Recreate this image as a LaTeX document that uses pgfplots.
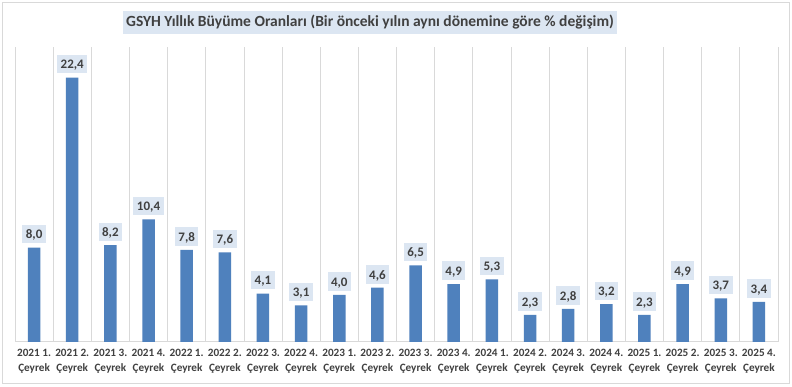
\documentclass[border=0pt]{standalone}
\usepackage{pgfplots}
\pgfplotsset{compat=1.18}
\usepackage{fontspec}
\setmainfont{Carlito}
\definecolor{barblue}{HTML}{4F81BD}
\definecolor{lblfill}{HTML}{DCE6F2}
\definecolor{txt}{HTML}{404040}
\definecolor{gridc}{HTML}{D9D9D9}
\begin{document}
\begin{tikzpicture}
\useasboundingbox (0,0) rectangle (792pt,387pt);
\fill[white] (0,0) rectangle (792pt,387pt);
\draw[gridc, line width=1pt] (2.5pt,3.5pt) rectangle (789.5pt,384.5pt);
\node[fill=lblfill, text=txt, font=\fontsize{15.5}{18}\selectfont\bfseries, minimum height=23pt, inner xsep=3pt] at (370pt,364.5pt) {GSYH Yıllık Büyüme Oranları (Bir önceki yılın aynı dönemine göre \% değişim)};
\begin{axis}[
  at={(15pt,45pt)}, anchor=south west,
  scale only axis, width=763pt, height=295pt,
  xmin=-0.5, xmax=19.5, ymin=0, ymax=25,
  axis y line=none,
  axis x line*=bottom,
  x axis line style={gridc, line width=1pt, -},
  xtick={0,...,19},
  minor xtick={-0.5,0.5,...,19.5},
  xminorgrids=true,
  minor grid style={gridc, line width=0.8pt},
  major tick length=0pt, minor tick length=0pt,
  xticklabels={{2021 1.\\Çeyrek},{2021 2.\\Çeyrek},{2021 3.\\Çeyrek},{2021 4.\\Çeyrek},
    {2022 1.\\Çeyrek},{2022 2.\\Çeyrek},{2022 3.\\Çeyrek},{2022 4.\\Çeyrek},
    {2023 1.\\Çeyrek},{2023 2.\\Çeyrek},{2023 3.\\Çeyrek},{2023 4.\\Çeyrek},
    {2024 1.\\Çeyrek},{2024 2.\\Çeyrek},{2024 3.\\Çeyrek},{2024 4.\\Çeyrek},
    {2025 1.\\Çeyrek},{2025 2.\\Çeyrek},{2025 3.\\Çeyrek},{2025 4.\\Çeyrek}},
  xticklabel style={align=center, text=txt, font=\fontsize{11.2}{15}\selectfont\bfseries, yshift=-4pt},
  ybar, bar width=12.5pt,
  nodes near coords,
  /pgf/number format/.cd, fixed, fixed zerofill, precision=1, use comma, assume math mode=true,
  /pgfplots/.cd,
  nodes near coords style={anchor=south, yshift=4pt, fill=lblfill, text=txt,
    font=\fontsize{13}{15}\selectfont\bfseries, inner xsep=3.5pt, inner ysep=0pt,
    text height=9.5pt, text depth=0pt, minimum height=18.5pt},
]
\addplot[fill=barblue, draw=none] coordinates {
(0,8.0) (1,22.4) (2,8.2) (3,10.4) (4,7.8) (5,7.6) (6,4.1) (7,3.1) (8,4.0) (9,4.6)
(10,6.5) (11,4.9) (12,5.3) (13,2.3) (14,2.8) (15,3.2) (16,2.3) (17,4.9) (18,3.7) (19,3.4)};
\end{axis}
\end{tikzpicture}
\end{document}
